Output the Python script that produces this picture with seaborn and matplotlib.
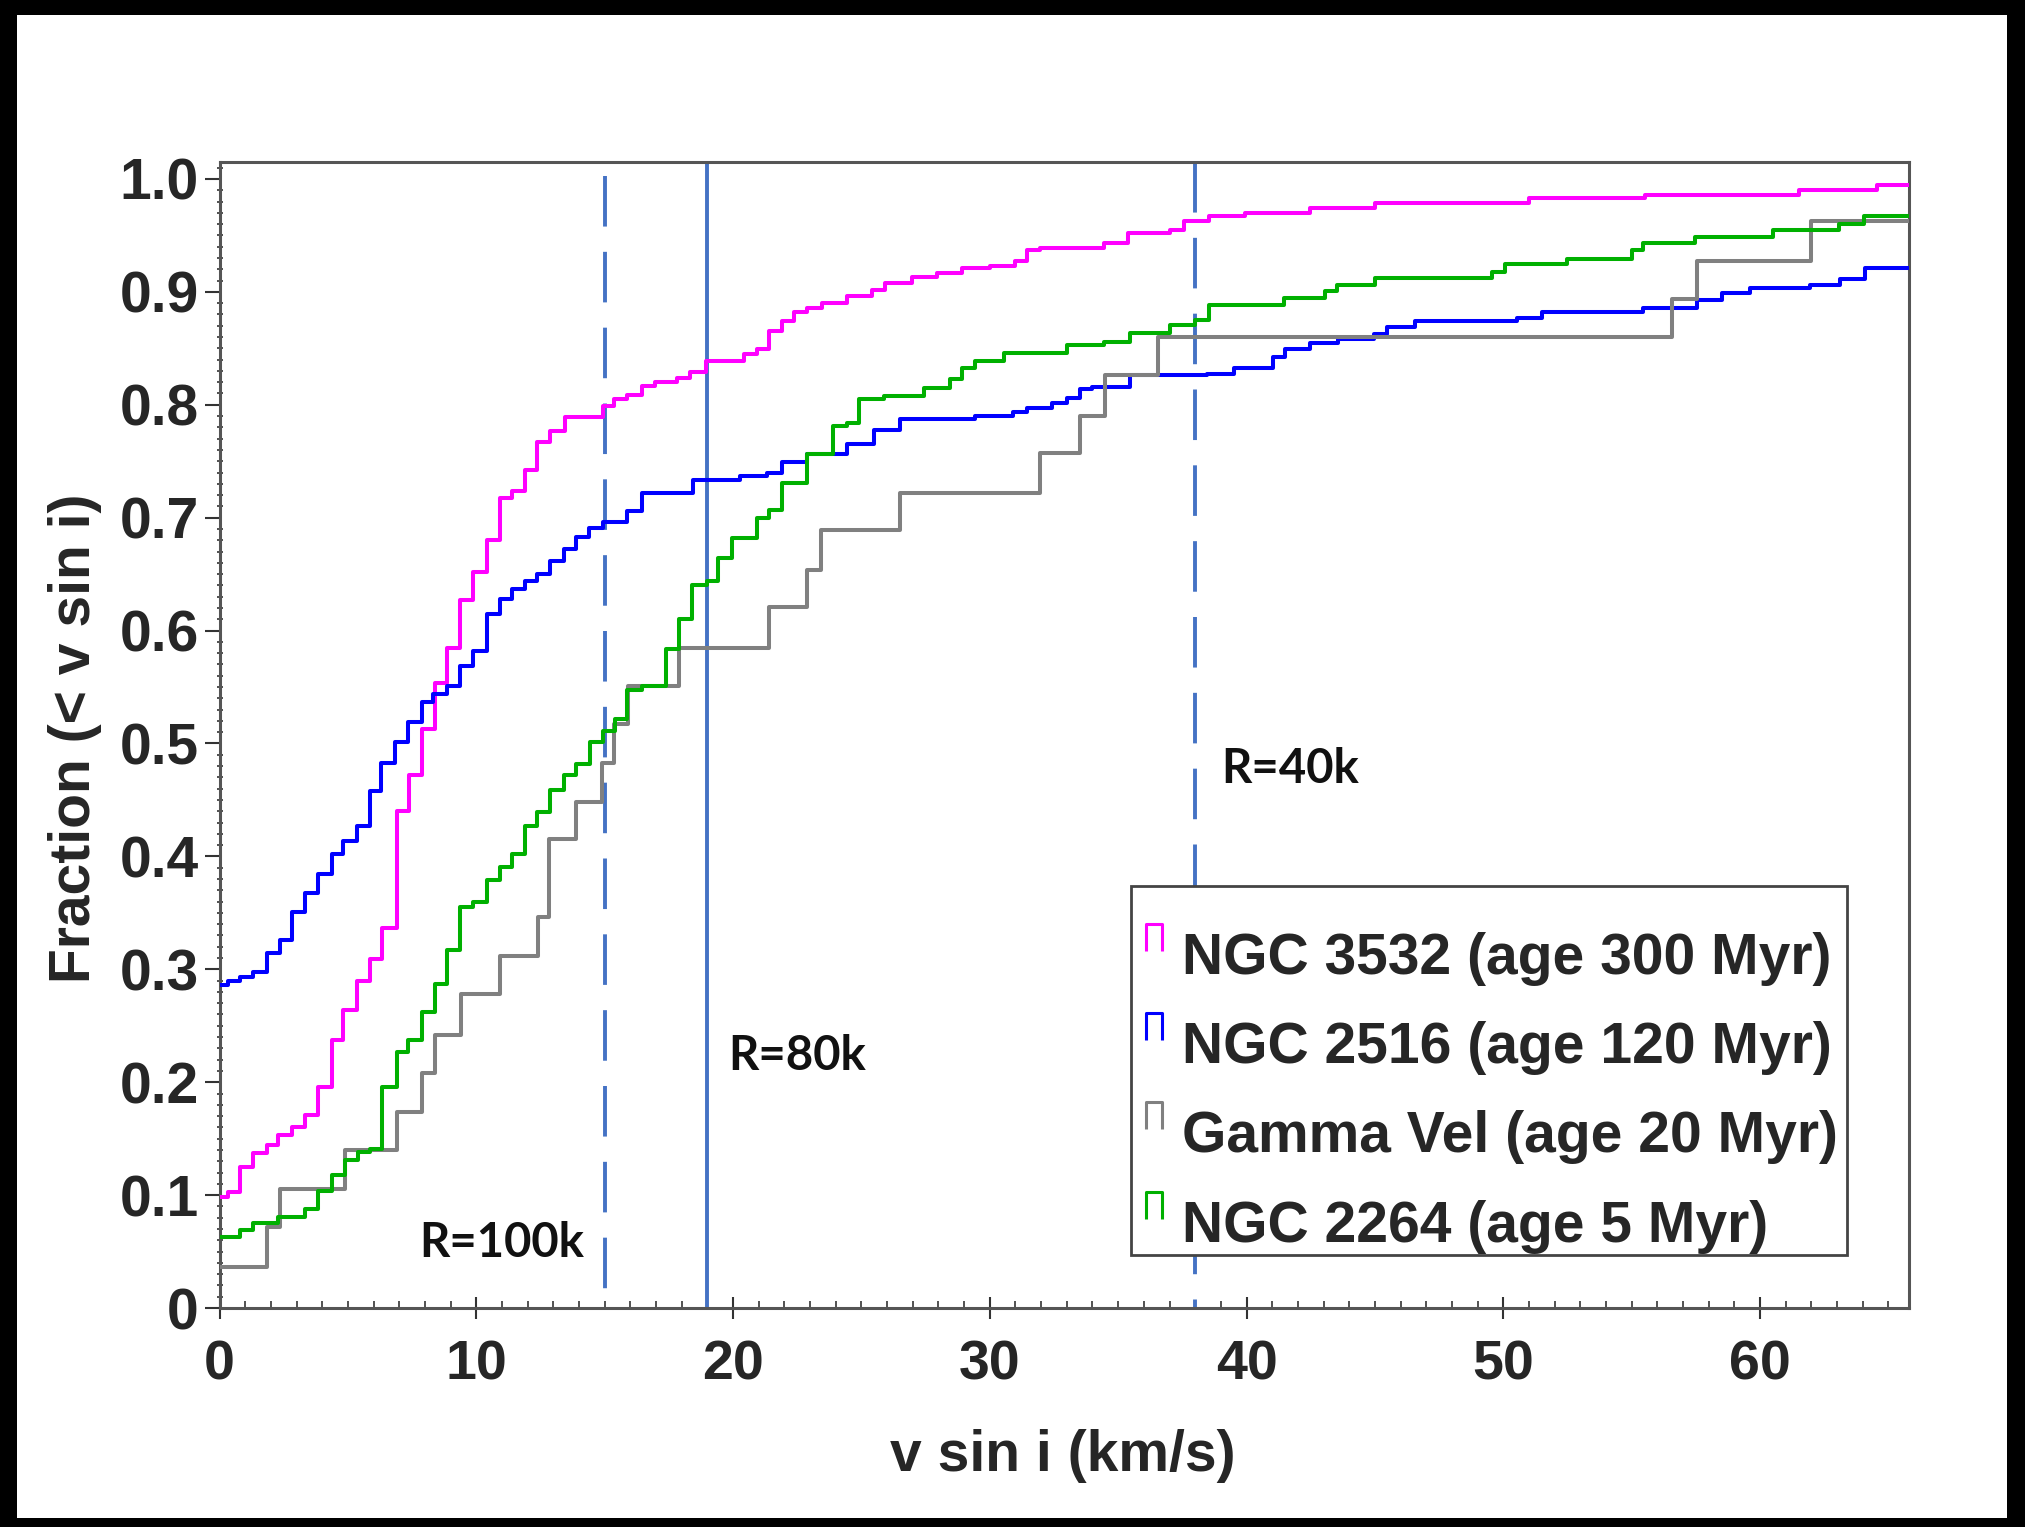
import numpy as np
import pandas as pd
import matplotlib
matplotlib.use("Agg")
import matplotlib.pyplot as plt
import seaborn as sns
from matplotlib.lines import Line2D
from matplotlib.path import Path
from matplotlib.patches import Rectangle
from matplotlib.ticker import MultipleLocator

# ---------------- data ----------------
clusters = ["NGC 3532 (age 300 Myr)", "NGC 2516 (age 120 Myr)",
            "Gamma Vel (age 20 Myr)", "NGC 2264 (age 5 Myr)"]
colors = ["#ff00ff", "#0000ff", "#808080", "#00b000"]

x_ngc3532 = [0, 0.34, 0.8, 1.29, 1.84, 2.29, 2.84, 3.33, 3.85, 4.37, 4.82, 5.34, 5.86, 6.32, 6.9,
             7.38, 7.88, 8.4, 8.85, 9.37, 9.89, 10.4, 10.93, 11.38, 11.9, 12.36, 12.88, 13.46, 14.95,
             15.35, 15.86, 16.45, 16.97, 17.81, 18.34, 18.95, 20.41, 20.93, 21.42, 21.9, 22.39, 22.88,
             23.46, 24.44, 25.41, 25.9, 26.97, 27.94, 28.91, 30.02, 31.0, 31.45, 31.96, 34.43, 35.4,
             37.02, 37.55, 38.52, 39.95, 42.48, 45.0, 51.0, 55.5, 61.5, 64.57, 65.8]
y_ngc3532 = [0.098, 0.103, 0.125, 0.137, 0.144, 0.153, 0.160, 0.171, 0.196, 0.237, 0.264, 0.290, 0.309,
             0.337, 0.440, 0.472, 0.513, 0.554, 0.585, 0.627, 0.652, 0.680, 0.717, 0.724, 0.742, 0.767,
             0.777, 0.789, 0.799, 0.805, 0.809, 0.817, 0.820, 0.824, 0.829, 0.839, 0.845, 0.849, 0.865,
             0.874, 0.882, 0.886, 0.890, 0.896, 0.902, 0.908, 0.913, 0.917, 0.921, 0.923, 0.927, 0.937,
             0.939, 0.943, 0.952, 0.955, 0.963, 0.967, 0.970, 0.974, 0.979, 0.983, 0.986, 0.990, 0.995,
             0.995]

x_ngc2516 = [0, 0.34, 0.8, 1.29, 1.84, 2.36, 2.84, 3.33, 3.85, 4.37, 4.82, 5.34, 5.86, 6.3, 6.84,
             7.36, 7.88, 8.33, 8.85, 9.37, 9.89, 10.4, 10.93, 11.38, 11.9, 12.36, 12.88, 13.4, 13.9,
             14.4, 14.95, 15.86, 16.45, 18.46, 20.28, 21.32, 21.9, 22.88, 24.44, 25.48, 26.51, 29.43,
             30.92, 31.45, 32.42, 33.0, 33.52, 33.98, 35.47, 38.46, 39.5, 41.05, 41.5, 42.48, 43.58,
             44.95, 45.46, 46.57, 50.53, 51.5, 55.46, 57.55, 58.5, 59.6, 61.96, 63.1, 64.1, 65.8]
y_ngc2516 = [0.286, 0.290, 0.293, 0.298, 0.314, 0.326, 0.351, 0.368, 0.384, 0.402, 0.414, 0.427, 0.458,
             0.483, 0.501, 0.519, 0.537, 0.544, 0.551, 0.569, 0.582, 0.615, 0.628, 0.637, 0.644, 0.650,
             0.662, 0.672, 0.683, 0.691, 0.696, 0.706, 0.722, 0.733, 0.737, 0.740, 0.749, 0.756, 0.765,
             0.778, 0.787, 0.790, 0.794, 0.797, 0.802, 0.806, 0.814, 0.816, 0.826, 0.827, 0.833, 0.842,
             0.849, 0.855, 0.858, 0.863, 0.869, 0.874, 0.877, 0.882, 0.886, 0.893, 0.899, 0.903, 0.906,
             0.911, 0.921, 0.921]

x_gammavel = [0, 1.86, 2.36, 4.89, 6.9, 7.88, 8.4, 9.4, 10.93, 12.4, 12.85, 13.9, 14.9, 15.37, 15.9,
              17.9, 21.42, 22.9, 23.43, 26.51, 31.96, 33.52, 34.5, 36.55, 56.57, 57.55, 62.0, 65.8]
y_gammavel = [0.036, 0.072, 0.105, 0.140, 0.174, 0.208, 0.242, 0.278, 0.312, 0.346, 0.415, 0.448,
              0.483, 0.517, 0.551, 0.585, 0.621, 0.654, 0.689, 0.722, 0.757, 0.790, 0.826, 0.860,
              0.894, 0.927, 0.963, 0.963]

x_ngc2264 = [0, 0.8, 1.29, 2.29, 3.33, 3.85, 4.37, 4.89, 5.41, 5.86, 6.32, 6.9, 7.36, 7.88, 8.4,
             8.85, 9.37, 9.89, 10.4, 10.93, 11.38, 11.9, 12.36, 12.88, 13.4, 13.9, 14.44, 14.95, 15.4,
             15.86, 16.45, 17.4, 17.9, 18.4, 18.98, 19.4, 19.95, 20.93, 21.42, 21.9, 22.9, 23.91, 24.44,
             24.89, 25.89, 27.42, 28.46, 28.91, 29.43, 30.54, 33.0, 34.43, 35.47, 37.02, 37.99, 38.52,
             41.44, 43.07, 43.52, 45.0, 49.56, 50.08, 52.47, 55.0, 55.46, 57.48, 60.5, 63.07, 64.05, 65.8]
y_ngc2264 = [0.063, 0.069, 0.075, 0.081, 0.088, 0.104, 0.118, 0.131, 0.138, 0.141, 0.196, 0.227, 0.237,
             0.262, 0.287, 0.317, 0.355, 0.360, 0.379, 0.391, 0.402, 0.427, 0.439, 0.459, 0.472, 0.482,
             0.501, 0.511, 0.522, 0.547, 0.551, 0.584, 0.610, 0.640, 0.644, 0.664, 0.682, 0.700, 0.707,
             0.731, 0.756, 0.781, 0.784, 0.805, 0.808, 0.815, 0.823, 0.833, 0.839, 0.846, 0.853, 0.856,
             0.864, 0.871, 0.875, 0.888, 0.895, 0.901, 0.906, 0.912, 0.918, 0.925, 0.929, 0.937, 0.943,
             0.949, 0.955, 0.960, 0.967, 0.967]

resolution_v = [15, 19, 38]
resolution_labels = ["R=100k", "R=80k", "R=40k"]
resolution_label_xy = [(11.0, 0.045), (22.5, 0.211), (41.7, 0.465)]

x_ticks = [0, 10, 20, 30, 40, 50, 60]
x_ticklabels = ["0", "10", "20", "30", "40", "50", "60"]
y_ticks = [0, 0.1, 0.2, 0.3, 0.4, 0.5, 0.6, 0.7, 0.8, 0.9, 1.0]
y_ticklabels = ["0", "0.1", "0.2", "0.3", "0.4", "0.5", "0.6", "0.7", "0.8", "0.9", "1.0"]

series = {
    clusters[0]: (x_ngc3532, y_ngc3532),
    clusters[1]: (x_ngc2516, y_ngc2516),
    clusters[2]: (x_gammavel, y_gammavel),
    clusters[3]: (x_ngc2264, y_ngc2264),
}
frames = [pd.DataFrame({"v": xs, "frac": ys, "cluster": name}) for name, (xs, ys) in series.items()]
df = pd.concat(frames, ignore_index=True)

# ---------------- style ----------------
sns.set_theme(style="white")
plt.rcParams["font.family"] = ["Liberation Sans", "DejaVu Sans"]
plt.rcParams["font.weight"] = "bold"

fig = plt.figure(figsize=(20.25, 15.27), dpi=100)
fig.patch.set_facecolor("black")
fig.patches.append(Rectangle((17 / 2025, 9 / 1527), (2025 - 35) / 2025, (1527 - 24) / 1527,
                             transform=fig.transFigure, facecolor="white", edgecolor="none", zorder=-5))

ax = fig.add_axes([0.1084, 0.1434, 0.9427 - 0.1084, 0.8939 - 0.1434])
ax.set_facecolor("white")
ax.set_zorder(1)

palette = dict(zip(clusters, colors))
sns.lineplot(data=df, x="v", y="frac", hue="cluster", hue_order=clusters, palette=palette,
             estimator=None, sort=False, drawstyle="steps-post", linewidth=2.9,
             legend=False, ax=ax, zorder=3)

vcol = "#4472c4"
for v, style in zip(resolution_v, ["dash", "solid", "dash"]):
    if style == "dash":
        # drawn from the top downwards so the dash pattern starts at the top
        ax.axvline(v, ymin=0.988 if v == 15 else 1.0, ymax=0.0, color=vcol, lw=2.8,
                   dashes=(13, 6.5), zorder=2)
    else:
        ax.axvline(v, color=vcol, lw=2.8, zorder=2)

for lab, (tx, ty) in zip(resolution_labels, resolution_label_xy):
    ax.text(tx, ty, lab, ha="center", va="baseline", fontsize=34, fontweight="bold",
            family=["Lato", "DejaVu Sans"], color="#111111", zorder=4)

ax.set_xlim(0, 65.8)
ax.set_ylim(0, 1.015)
ax.set_xticks(x_ticks)
ax.set_xticklabels(x_ticklabels)
ax.set_yticks(y_ticks)
ax.set_yticklabels(y_ticklabels)
ax.xaxis.set_minor_locator(MultipleLocator(1))
ax.yaxis.set_minor_locator(MultipleLocator(0.01))
ax.tick_params(axis="x", which="major", direction="inout", length=16, width=1.5, pad=15,
               labelsize=40, color="#333333", bottom=True)
ax.tick_params(axis="x", which="minor", direction="in", length=5, width=1.2, color="#333333", bottom=True)
ax.tick_params(axis="y", which="major", direction="out", length=11, width=1.5, pad=4,
               labelsize=41, color="#333333", left=True)
ax.tick_params(axis="y", which="minor", direction="inout", length=4, width=1.2, color="#333333", left=True)
for lab in ax.get_xticklabels() + ax.get_yticklabels():
    lab.set_fontweight("bold")

for s in ax.spines.values():
    s.set_color("#555555")
    s.set_linewidth(2.2)
    s.set_visible(True)

ax.set_xlabel("v sin i (km/s)", fontsize=41, fontweight="bold")
ax.set_ylabel("Fraction (< v sin i)", fontsize=41, fontweight="bold")
ax.xaxis.set_label_coords(0.4993, -0.129)
ax.xaxis.label.set_va("center")
ax.yaxis.set_label_coords(-0.0855, 0.497)
ax.yaxis.label.set_va("center")

# legend frame (plain box) and legend entries with small step-shaped handles
ax.add_patch(Rectangle((0.5397, 0.0462), 0.9633 - 0.5397, 0.3682 - 0.0462, transform=ax.transAxes,
                       facecolor="white", edgecolor="#444444", lw=2, zorder=5))
hook = Path([(-0.26, 0.1), (-0.26, 1.0), (0.26, 1.0), (0.26, 0.1)],
            [Path.MOVETO, Path.LINETO, Path.LINETO, Path.LINETO])
handles = [Line2D([], [], ls="none", marker=hook, ms=43, mec=c, mfc="none", mew=2.2)
           for c in colors]
leg = ax.legend(handles, clusters, loc="center left", bbox_to_anchor=(0.5457, 0.188),
                borderaxespad=0, borderpad=0, frameon=False,
                prop={"weight": "bold", "size": 41}, handlelength=0.44,
                handletextpad=0.27, labelspacing=0.62)
leg.set_zorder(6)

fig.savefig("out.png", dpi=100, facecolor=fig.get_facecolor())
